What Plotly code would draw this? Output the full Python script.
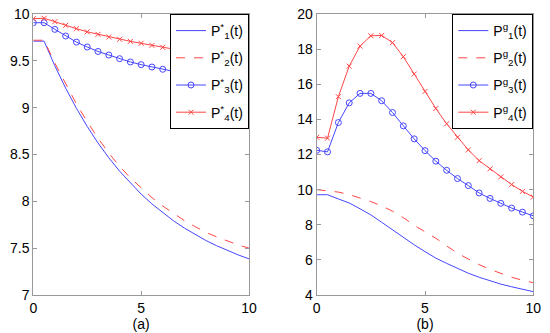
import plotly.graph_objects as go

t = [0, 0.5, 1, 1.5, 2, 2.5, 3, 3.5, 4, 4.5, 5, 5.5, 6, 6.5, 7, 7.5, 8, 8.5, 9, 9.5, 10]

# Panel (a)
a_p1 = [9.71, 9.71, 9.446, 9.208, 8.993, 8.799, 8.623, 8.465, 8.322, 8.194, 8.077,
        7.972, 7.878, 7.792, 7.715, 7.645, 7.582, 7.526, 7.475, 7.428, 7.386]
a_p2 = [9.72, 9.72, 9.475, 9.25, 9.04, 8.85, 8.675, 8.515, 8.375, 8.25, 8.14,
        8.04, 7.95, 7.87, 7.795, 7.73, 7.67, 7.62, 7.575, 7.535, 7.50]
a_p3 = [9.907, 9.907, 9.836, 9.765, 9.70, 9.648, 9.60, 9.562, 9.523, 9.488, 9.459,
        9.434, 9.41, 9.388, 9.367, 9.35, 9.335, 9.32, 9.305, 9.29, 9.27]
a_p4 = [9.95, 9.954, 9.918, 9.879, 9.843, 9.81, 9.783, 9.754, 9.73, 9.708, 9.687,
        9.665, 9.644, 9.626, 9.605, 9.59, 9.57, 9.555, 9.54, 9.52, 9.488]

# Panel (b)
b_p1 = [9.71, 9.71, 9.47, 9.24, 8.91, 8.56, 8.14, 7.70, 7.27, 6.86, 6.47,
        6.10, 5.80, 5.50, 5.24, 5.01, 4.80, 4.62, 4.47, 4.33, 4.19]
b_p2 = [10.0, 9.95, 9.86, 9.72, 9.54, 9.32, 9.08, 8.77, 8.40, 7.97, 7.60,
        7.23, 6.80, 6.38, 6.05, 5.73, 5.46, 5.22, 5.01, 4.84, 4.70]
b_p3 = [12.24, 12.15, 13.82, 14.94, 15.48, 15.48, 15.06, 14.39, 13.63, 12.89, 12.22,
        11.62, 11.10, 10.63, 10.23, 9.81, 9.50, 9.22, 8.95, 8.72, 8.51]
b_p4 = [12.98, 12.93, 15.29, 17.03, 18.17, 18.76, 18.78, 18.37, 17.57, 16.58, 15.59,
        14.62, 13.75, 12.98, 12.26, 11.65, 11.18, 10.72, 10.29, 9.90, 9.58]

names_a = ["P<sup>*</sup><sub>1</sub>(t)", "P<sup>*</sup><sub>2</sub>(t)",
           "P<sup>*</sup><sub>3</sub>(t)", "P<sup>*</sup><sub>4</sub>(t)"]
names_b = ["P<sup>g</sup><sub>1</sub>(t)", "P<sup>g</sup><sub>2</sub>(t)",
           "P<sup>g</sup><sub>3</sub>(t)", "P<sup>g</sup><sub>4</sub>(t)"]

BLUE = "rgb(70,70,255)"
RED = "rgb(255,70,70)"
FONT = "Liberation Sans, Arial, sans-serif"

fig = go.Figure()

def add_panel(vals, names, xa, ya, legend, grp):
    p1, p2, p3, p4 = vals
    fig.add_trace(go.Scatter(x=t, y=p1, name=names[0], mode="lines",
                             line=dict(color=BLUE, width=1), xaxis=xa, yaxis=ya,
                             legend=legend, legendgroup=grp + "1"))
    fig.add_trace(go.Scatter(x=t, y=p2, name=names[1], mode="lines",
                             line=dict(color=RED, width=1, dash="dash"), xaxis=xa, yaxis=ya,
                             legend=legend, legendgroup=grp + "2"))
    fig.add_trace(go.Scatter(x=t, y=p3, name=names[2], mode="lines+markers",
                             line=dict(color=BLUE, width=1),
                             marker=dict(symbol="circle-open", size=6, color=BLUE, line=dict(width=1)),
                             xaxis=xa, yaxis=ya, legend=legend, legendgroup=grp + "3"))
    fig.add_trace(go.Scatter(x=t, y=p4, name=names[3], mode="lines+markers",
                             line=dict(color=RED, width=1),
                             marker=dict(symbol="x-thin-open", size=5, color=RED, line=dict(width=1, color=RED)),
                             xaxis=xa, yaxis=ya, legend=legend, legendgroup=grp + "4"))

add_panel([a_p1, a_p2, a_p3, a_p4], names_a, "x", "y", "legend", "a")
add_panel([b_p1, b_p2, b_p3, b_p4], names_b, "x2", "y2", "legend2", "b")

ax_common = dict(showline=True, linecolor="#999999", linewidth=1, mirror="ticks",
                 ticks="inside", ticklen=4, tickcolor="#999999", showgrid=False,
                 zeroline=False, automargin=False,
                 tickfont=dict(size=14, color="black", family=FONT))

y0 = 1 - 295 / 333
y1 = 1 - 14 / 333

fig.update_layout(
    width=550, height=333,
    margin=dict(l=0, r=0, t=0, b=0, autoexpand=False),
    paper_bgcolor="white", plot_bgcolor="white",
    font=dict(family=FONT, size=14, color="black"),
    xaxis=dict(domain=[33.3 / 550, 249 / 550], range=[0, 10], tickvals=[0, 5, 10],
               title=dict(text="(a)", font=dict(size=14), standoff=0), anchor="y", **ax_common),
    yaxis=dict(domain=[y0, y1], range=[7, 10], tickvals=[7, 7.5, 8, 8.5, 9, 9.5, 10],
               anchor="x", **ax_common),
    xaxis2=dict(domain=[316.7 / 550, 533.3 / 550], range=[0, 10], tickvals=[0, 5, 10],
                title=dict(text="(b)", font=dict(size=14), standoff=0), anchor="y2", **ax_common),
    yaxis2=dict(domain=[y0, y1], range=[4, 20], tickvals=[4, 6, 8, 10, 12, 14, 16, 18, 20],
                anchor="x2", **ax_common),
    legend=dict(x=249 / 550, y=y1, xanchor="right", yanchor="top",
                bordercolor="black", borderwidth=1, bgcolor="white",
                font=dict(size=14, family=FONT), tracegroupgap=6, itemwidth=30),
    legend2=dict(x=533.3 / 550, y=y1, xanchor="right", yanchor="top",
                 bordercolor="black", borderwidth=1, bgcolor="white",
                 font=dict(size=14, family=FONT), tracegroupgap=6, itemwidth=30),
    showlegend=True,
)

fig.write_html("out.html", config={"displayModeBar": False},
               post_script="document.body.style.margin='0';document.body.style.padding='0';")
